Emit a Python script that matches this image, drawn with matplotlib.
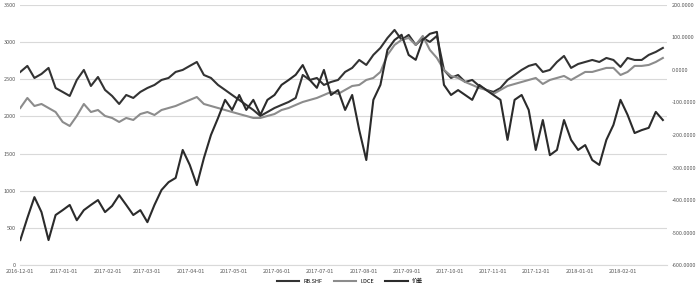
import numpy as np
import pandas as pd
import matplotlib
matplotlib.use("Agg")
import matplotlib.pyplot as plt

plt.rcParams['font.family'] = ['Noto Sans CJK SC', 'DejaVu Sans']

dates = pd.date_range("2016-12-01", periods=92, freq="5D")

rb = [2598, 2679, 2517, 2571, 2652, 2382, 2329, 2275, 2490, 2625,
      2409, 2530, 2356, 2275, 2167, 2288, 2248, 2329, 2382, 2423,
      2490, 2517, 2598, 2625, 2679, 2732, 2557, 2517, 2423, 2356,
      2288, 2221, 2154, 2086, 2006, 2059, 2113, 2154, 2194, 2248,
      2557, 2490, 2517, 2423, 2463, 2490, 2598, 2652, 2759, 2692,
      2827, 2921, 3055, 3163, 3029, 3096, 2961, 3055, 3002, 3082,
      2625, 2517, 2557, 2463, 2490, 2409, 2356, 2329, 2382, 2490,
      2557, 2625, 2679, 2705, 2598, 2625, 2732, 2813, 2652, 2705,
      2732, 2759, 2732, 2786, 2759, 2665, 2786, 2759, 2759, 2827,
      2867, 2921]

dce = [2113, 2248, 2140, 2167, 2113, 2059, 1925, 1871, 2006, 2167,
       2059, 2086, 2006, 1979, 1925, 1979, 1952, 2032, 2059, 2019,
       2086, 2113, 2140, 2181, 2221, 2261, 2167, 2140, 2113, 2086,
       2059, 2032, 2006, 1979, 1979, 2006, 2032, 2086, 2113, 2154,
       2194, 2221, 2248, 2288, 2329, 2302, 2356, 2409, 2423, 2490,
       2517, 2598, 2827, 2961, 3029, 3055, 2961, 3082, 2894, 2786,
       2625, 2544, 2517, 2463, 2423, 2382, 2356, 2302, 2356, 2409,
       2436, 2463, 2490, 2517, 2436, 2490, 2517, 2544, 2490, 2544,
       2598, 2598, 2625, 2652, 2652, 2557, 2598, 2679, 2679, 2692,
       2732, 2786]

spread = [-523, -455, -391, -437, -523, -446, -431, -415, -462, -431,
          -415, -400, -437, -418, -385, -415, -446, -431, -468, -415,
          -369, -345, -332, -246, -292, -354, -271, -200, -148, -92,
          -123, -77, -123, -92, -138, -92, -77, -46, -31, -15,
          15, -31, -55, 0, -77, -62, -123, -77, -185, -277,
          -92, -46, 62, 92, 108, 46, 31, 92, 111, 117,
          -46, -77, -62, -77, -92, -46, -62, -77, -92, -215,
          -92, -77, -123, -246, -154, -262, -246, -154, -215, -246,
          -231, -277, -292, -215, -169, -92, -138, -194, -185, -178,
          -129, -154]

names = ["RB.SHF", "I.DCE", "价差"]
tick_dates = pd.date_range("2016-12-01", "2018-02-01", freq="MS")
left_ticks = np.arange(0, 3501, 500)
right_ticks = np.arange(-600, 201, 100)

fig = plt.figure(figsize=(7, 2.86), dpi=100)
ax = fig.add_axes([0.029, 0.073, 0.924, 0.91])
ax2 = ax.twinx()

l1, = ax.plot(dates, rb, color="#333333", lw=1.5, label=names[0])
l2, = ax.plot(dates, dce, color="#8c8c8c", lw=1.5, label=names[1])
l3, = ax2.plot(dates, spread, color="#2b2b2b", lw=1.5, label=names[2])

ax.set_ylim(0, 3500)
ax.set_yticks(left_ticks)
ax2.set_ylim(-600, 200)
ax2.set_yticks(right_ticks)
ax2.set_yticklabels([f"{v:.4f}" for v in right_ticks])

ax.set_xlim(dates[0], dates[-1] + pd.Timedelta(days=3))
ax.set_xticks(tick_dates)
ax.set_xticklabels([d.strftime("%Y-%m-%d") for d in tick_dates])

ax.grid(axis="y", color="#d9d9d9", lw=0.8)
ax.set_axisbelow(True)
for a in (ax, ax2):
    for s in a.spines.values():
        s.set_visible(False)
    a.tick_params(length=0, labelsize=4, colors="#595959", pad=3)
ax.spines["bottom"].set_visible(True)
ax.spines["bottom"].set_color("#d9d9d9")

fig.legend(handles=[l1, l2, l3], loc="lower center", bbox_to_anchor=(0.5, -0.01),
           ncol=3, frameon=False, fontsize=4, handlelength=4, columnspacing=2)

fig.savefig("out.png", dpi=100)
